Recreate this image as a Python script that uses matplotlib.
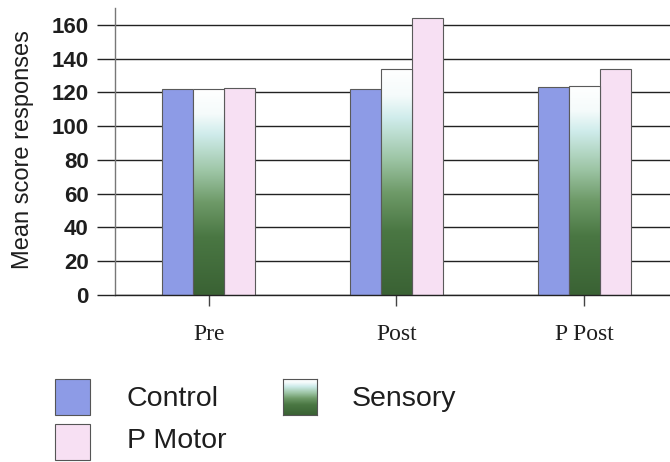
import numpy as np
import matplotlib
matplotlib.use("Agg")
import matplotlib.pyplot as plt
from matplotlib.colors import LinearSegmentedColormap
from matplotlib.patches import Rectangle

categories = ["Pre", "Post", "P Post"]
series_names = ["Control", "Sensory", "P Motor"]
control = [122, 122, 123.5]
sensory = [122, 134, 124]
p_motor = [122.5, 164, 134]
yticks = [0, 20, 40, 60, 80, 100, 120, 140, 160]

col_control = "#8d9be6"
col_pmotor = "#f7e0f3"
edge = "#5a5a5a"
grad = LinearSegmentedColormap.from_list(
    "sens",
    [(0.0, "#ffffff"), (0.12, "#f5fbfb"), (0.22, "#cfeceb"), (0.40, "#9dc5a5"),
     (0.55, "#6e9a68"), (0.72, "#4a7743"), (1.0, "#3a6234")])

W, H = 670, 462
fig = plt.figure(figsize=(W / 100, H / 100), dpi=100)
ax = fig.add_axes([115 / W, (H - 295) / H, 563 / W, 287 / H])

x = np.arange(len(categories))
bw = 0.165
bars_c = ax.bar(x - bw, control, bw, color=col_control, edgecolor=edge, linewidth=0.8, zorder=2)
bars_s = ax.bar(x, sensory, bw, facecolor="none", edgecolor=edge, linewidth=0.8, zorder=3)
bars_p = ax.bar(x + bw, p_motor, bw, color=col_pmotor, edgecolor=edge, linewidth=0.8, zorder=2)

g = np.linspace(0, 1, 256).reshape(-1, 1)
for b in bars_s:
    x0, y0 = b.get_x(), b.get_y()
    w, h = b.get_width(), b.get_height()
    ax.imshow(g, cmap=grad, extent=(x0, x0 + w, y0, y0 + h), origin="upper",
              aspect="auto", zorder=2, interpolation="bilinear")

ax.set_xlim(-0.5, 2.5)
ax.set_ylim(0, 170)
ax.set_yticks(yticks)
ax.set_yticklabels([str(v) for v in yticks], fontfamily="Liberation Sans",
                   fontweight="bold", fontsize=16, color="#1e1e1e")
ax.set_xticks(x)
ax.set_xticklabels(categories, fontfamily="Liberation Serif", fontsize=17, color="#1e1e1e")
ax.tick_params(axis="y", length=13, width=1, color="#222222", pad=6)
ax.tick_params(axis="x", length=8, width=1, color="#444444", pad=13)
ax.set_axisbelow(True)
ax.yaxis.grid(True, color="#222222", linewidth=1)
for s in ["top", "right"]:
    ax.spines[s].set_visible(False)
ax.spines["left"].set_color("#777777")
ax.spines["left"].set_linewidth(1)
ax.spines["bottom"].set_color("#222222")
ax.spines["bottom"].set_linewidth(1)

fig.text(23 / W, 1 - 150 / H, "Mean score responses", rotation=90, ha="center", va="center",
         fontfamily="Liberation Sans", fontsize=17, color="#1e1e1e")

# legend
def patch(px, py, color):
    fig.add_artist(Rectangle((px / W, 1 - (py + 36) / H), 35 / W, 36 / H,
                             transform=fig.transFigure, facecolor=color,
                             edgecolor="#555555", linewidth=0.8))

patch(55, 379, col_control)
patch(55, 424, col_pmotor)
lax = fig.add_axes([283 / W, 1 - (379 + 36) / H, 34 / W, 36 / H])
lax.imshow(g, cmap=grad, aspect="auto", origin="upper", interpolation="bilinear")
lax.set_xticks([]); lax.set_yticks([])
for s in lax.spines.values():
    s.set_color("#555555"); s.set_linewidth(0.8)

lkw = dict(fontfamily="Liberation Sans", fontsize=20.5, color="#1e1e1e", va="center", ha="left")
fig.text(127 / W, 1 - 399 / H, series_names[0], **lkw)
fig.text(352 / W, 1 - 399 / H, series_names[1], **lkw)
fig.text(127 / W, 1 - 441 / H, series_names[2], **lkw)

fig.savefig("out.png", dpi=100, facecolor="white")
